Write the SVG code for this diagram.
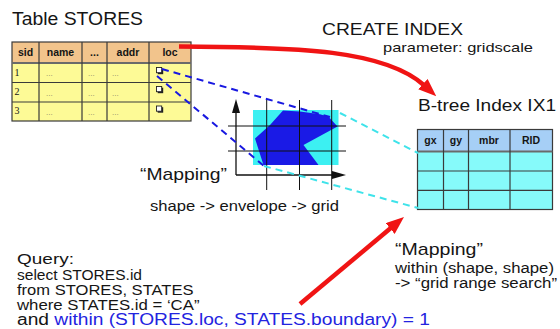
<svg xmlns="http://www.w3.org/2000/svg" width="560" height="329" viewBox="0 0 560 329">
<style>
  text { font-family: "Liberation Sans", Arial, Helvetica, sans-serif; fill: #151515; }
  .hdr { font-size: 10.5px; font-weight: bold; text-anchor: middle; }
  .num { font-family: "Liberation Serif", "Times New Roman", serif; font-size: 10px; }
  .dots { font-size: 8px; fill: #8a8a6a; }
  .line { stroke: #3a3a3a; stroke-width: 1.2; fill: none; }
  .grid { stroke: #111; stroke-width: 1; }
  .axis { stroke: #111; stroke-width: 1.3; marker-end: url(#axHead); }
  .dash-blue { stroke: #1818e0; stroke-width: 2; stroke-dasharray: 7 5; fill: none; }
  .dash-cyan { stroke: #3fe3ea; stroke-width: 2; stroke-dasharray: 7 5; fill: none; }
  .red { stroke: #f01414; stroke-width: 4.5; fill: none; marker-end: url(#redHead); }
  .blue { fill: #1a1ae6; }
  .q { font-size: 14px; }
</style>
<defs>
  <marker id="redHead" markerUnits="userSpaceOnUse" viewBox="0 0 18 14" markerWidth="18" markerHeight="14" refX="2" refY="7" orient="auto">
    <path d="M0,0 L18,7 L0,14 z" fill="#f01414"/>
  </marker>
  <marker id="axHead" markerUnits="userSpaceOnUse" viewBox="0 0 14 8" markerWidth="14" markerHeight="8" refX="1" refY="4" orient="auto">
    <path d="M0,0 L14,4 L0,8 z" fill="#111"/>
  </marker>
  <g id="cb">
    <rect x="1.2" y="1.2" width="5.5" height="5.5" fill="#222"/>
    <rect x="0" y="0" width="5.2" height="5.2" fill="#fff" stroke="#222" stroke-width="0.9"/>
  </g>
</defs>

<text id="title-stores" x="12" y="25" font-size="17.5" textLength="131" lengthAdjust="spacingAndGlyphs">Table STORES</text>

<!-- Table STORES -->
<g id="table-stores">
  <rect x="12" y="42" width="179" height="21" fill="#f2c48c"/>
  <rect x="12" y="63" width="179" height="58" fill="#fdfa96"/>
  <rect x="12" y="42" width="179" height="79" class="line" stroke-width="1.5"/>
  <line x1="12" y1="63" x2="191" y2="63" stroke="#6a6a6a" stroke-width="2"/>
  <path class="line" d="M12,82.5 H191 M12,102 H191 M39,42 V121 M82,42 V121 M107,42 V121 M149,42 V121"/>
  <text class="hdr" x="25.5" y="56">sid</text>
  <text class="hdr" x="60.5" y="56">name</text>
  <text class="hdr" x="94.5" y="56">...</text>
  <text class="hdr" x="128" y="56">addr</text>
  <text class="hdr" x="170" y="56">loc</text>
  <text class="num" x="14.5" y="75.5">1</text>
  <text class="num" x="14.5" y="95">2</text>
  <text class="num" x="14.5" y="114">3</text>
  <text class="dots" x="46" y="76">...</text>
  <text class="dots" x="88" y="76">...</text>
  <text class="dots" x="112" y="76">...</text>
  <text class="dots" x="46" y="95.5">...</text>
  <text class="dots" x="88" y="95.5">...</text>
  <text class="dots" x="112" y="95.5">...</text>
  <text class="dots" x="46" y="115">...</text>
  <text class="dots" x="88" y="115">...</text>
  <text class="dots" x="112" y="115">...</text>
  <use href="#cb" x="156.5" y="67.5"/>
  <use href="#cb" x="156.5" y="86.5"/>
  <use href="#cb" x="156.5" y="106"/>
</g>

<!-- Grid mapping figure -->
<g id="grid-mapping">
  <rect x="253" y="110" width="85.5" height="55" fill="#3cf0f2"/>
  <polygon class="blue" points="283,110.5 300,111.5 320,114.3 328.5,116.7 337.5,126.5 303.5,145 318.5,165 263.5,165 255,138.5 270,125"/>
  <path class="grid" d="M266.7,100 V190 M299.5,100 V190 M331.7,100 V190 M228,126 H346 M228,151 H346"/>
  <line class="axis" x1="236" y1="175" x2="236" y2="112"/>
  <line class="axis" x1="236" y1="175" x2="333" y2="175"/>
</g>

<!-- Index IX1 -->
<g id="index-ix1">
  <rect x="417.5" y="129.5" width="135" height="22" fill="#a6cff6"/>
  <rect x="417.5" y="151.5" width="135" height="58" fill="#86fafa"/>
  <rect x="417.5" y="129.5" width="135" height="80" class="line" stroke-width="1.5"/>
  <line x1="417.5" y1="151.5" x2="552.5" y2="151.5" stroke="#6a6a6a" stroke-width="2"/>
  <path class="line" d="M417.5,171 H552.5 M417.5,190.3 H552.5 M443.5,129.5 V209.5 M468.5,129.5 V209.5 M510,129.5 V209.5"/>
  <text class="hdr" x="430.5" y="144">gx</text>
  <text class="hdr" x="456" y="144">gy</text>
  <text class="hdr" x="489" y="144">mbr</text>
  <text class="hdr" x="531" y="144">RID</text>
</g>

<!-- Connectors -->
<g id="connectors">
  <path class="dash-blue" d="M162,69 L330,117"/>
  <path class="dash-blue" d="M157,76 L264,166"/>
  <path class="dash-cyan" d="M340,113 L418,153"/>
  <path class="dash-cyan" d="M264,166 L418,208"/>
  <path class="red" d="M179,46.5 C300,47 385,50 424.4,85.5"/>
  <path class="red" d="M300,304 L391.7,227.3"/>
</g>

<!-- Labels -->
<g id="label-create">
  <text x="322" y="35" font-size="16.5" textLength="141" lengthAdjust="spacingAndGlyphs">CREATE INDEX</text>
  <text x="383" y="52" font-size="13.5" textLength="150" lengthAdjust="spacingAndGlyphs">parameter: gridscale</text>
</g>
<text id="label-btree" x="418" y="111" font-size="17" textLength="138" lengthAdjust="spacingAndGlyphs">B-tree Index IX1</text>
<g id="label-mapping1">
  <text x="140" y="180" font-size="17" textLength="87" lengthAdjust="spacingAndGlyphs">“Mapping”</text>
  <text x="150" y="210.5" font-size="14" textLength="189" lengthAdjust="spacingAndGlyphs">shape -&gt; envelope -&gt; grid</text>
</g>
<g id="label-mapping2">
  <text x="395" y="255" font-size="17" textLength="88" lengthAdjust="spacingAndGlyphs">“Mapping”</text>
  <text x="395" y="272.5" font-size="14" textLength="159" lengthAdjust="spacingAndGlyphs">within (shape, shape)</text>
  <text x="395" y="287.5" font-size="14" textLength="162" lengthAdjust="spacingAndGlyphs">-&gt; “grid range search”</text>
</g>
<g id="query">
  <text x="17" y="263.5" font-size="15" textLength="57" lengthAdjust="spacingAndGlyphs">Query:</text>
  <text class="q" x="17" y="280" textLength="125" lengthAdjust="spacingAndGlyphs">select STORES.id</text>
  <text class="q" x="17" y="294.5" textLength="176.5" lengthAdjust="spacingAndGlyphs">from STORES, STATES</text>
  <text class="q" x="17" y="309.5" textLength="182.5" lengthAdjust="spacingAndGlyphs">where STATES.id = ‘CA”</text>
  <text x="17" y="325" font-size="16" textLength="413" lengthAdjust="spacingAndGlyphs">and <tspan fill="#2323e0">within (STORES.loc, STATES.boundary) = 1</tspan></text>
</g>
</svg>
